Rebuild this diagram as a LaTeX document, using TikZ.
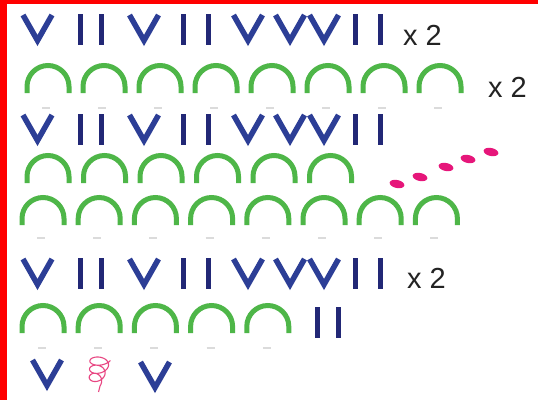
\documentclass[tikz,border=0pt]{standalone}
\usepackage{fontspec}
\setmainfont{Liberation Sans}
\definecolor{veeblue}{RGB}{44,62,150}
\definecolor{barnavy}{RGB}{34,40,118}
\definecolor{loopgreen}{RGB}{78,182,72}
\definecolor{dotpink}{RGB}{230,22,122}
\definecolor{curlpink}{RGB}{232,70,130}
\definecolor{framered}{RGB}{255,0,0}
\definecolor{textgray}{RGB}{35,35,35}
\tikzset{
  veeline/.style={draw=veeblue,line width=5.5pt,line join=miter},
  barline/.style={draw=barnavy,line width=5pt},
  arcline/.style={draw=loopgreen,line width=5pt},
  ghost/.style={draw=black!14,line width=1.5pt},
  times/.style={anchor=base west,inner sep=0pt,text=textgray,font=\fontsize{29}{29}\selectfont},
  vee/.pic={\draw[veeline] (-14.5,2) -- (0,27.5) -- (14.5,2);},
  bar/.pic={\draw[barline] (0,0) -- (0,31);},
  hoop/.pic={\draw[arcline] (-21,30) -- (-21,23.5) arc[start angle=180,end angle=360,radius=21] -- (21,30);},
  dash/.pic={\draw[ghost] (-4,0) -- (4,0);}
}
% one row of the V/I pattern, top edge at #1
\newcommand\veerow[1]{%
  \foreach \vx in {37.5,144,248,290,324} \pic at (\vx,#1) {vee};
  \foreach \bx in {80,101,183,208,355,380} \pic at (\bx,#1+1) {bar};
}
\begin{document}
\begin{tikzpicture}[x=1pt,y=-1pt]
  \useasboundingbox (0,0) rectangle (538,400);
  \fill[white] (0,0) rectangle (538,400);
  \fill[framered] (0,0) rectangle (7,400);
  \fill[framered] (0,0) rectangle (538,4);

  % row 1
  \veerow{13}
  \node[times] (rep1) at (403,45) {x 2};

  % row 2: eight loops
  \foreach \k in {0,...,7} {
    \pic at (48+56*\k,63) {hoop};
    \pic at (46+56*\k,108) {dash};
  }
  \node[times] (rep2) at (488,97) {x 2};

  % row 3
  \veerow{113}

  % row 4: six loops
  \foreach \k in {0,...,5} \pic at (48+56.5*\k,153) {hoop};

  % rising dots
  \foreach \px/\py in {397/184,420/177,446/167,468/159,491/152}
    \fill[dotpink,rotate around={-12:(\px,\py)}] (\px,\py) ellipse[x radius=7.5,y radius=4];

  % row 5: eight loops
  \foreach \k in {0,...,7} {
    \pic at (43+56.2*\k,195) {hoop};
    \pic at (41+56.2*\k,238) {dash};
  }

  % row 6
  \veerow{257}
  \node[times] (rep3) at (407,288) {x 2};

  % row 7: five loops and two bars
  \foreach \k in {0,...,4} {
    \pic at (43+56.2*\k,303) {hoop};
    \pic at (42+56.2*\k,348) {dash};
  }
  \pic at (317,307) {bar};
  \pic at (338,307) {bar};

  % row 8
  \pic at (47,358) {vee};
  \pic at (155,360) {vee};
  % curly chain mark, loops shrinking downwards, tail to the lower left
  \draw[curlpink,line width=1.1pt,smooth,samples=160,variable=\s,domain=0.5:19.5]
    plot ({101-0.3*\s+(11-0.25*\s)*cos(\s r)},{357+1.3*\s+6*sin(\s r)})
    -- ++(-1.5,6);
\end{tikzpicture}
\end{document}
